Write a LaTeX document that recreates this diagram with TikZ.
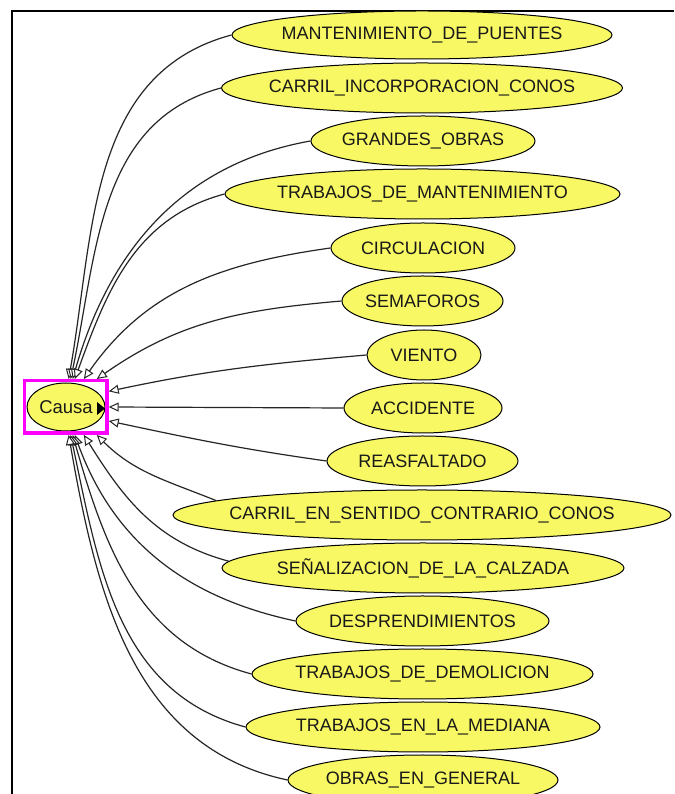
\documentclass[tikz,border=0pt]{standalone}
\usepackage{fontspec}
\setmainfont{Liberation Sans}
\usetikzlibrary{arrows.meta,shapes.geometric}
\definecolor{nodeyellow}{RGB}{248,248,100}
\definecolor{selmagenta}{RGB}{255,0,255}
\newcommand{\lbl}[1]{\makebox[0pt]{#1}}
\begin{document}
\begin{tikzpicture}[x=1pt,y=1pt,
  concept/.style={ellipse, draw=black, line width=1pt, fill=nodeyellow,
    inner sep=0pt, minimum height=50pt, text=black!90,
    font=\fontsize{18}{20}\selectfont},
  edge/.style={draw=black!85, line width=1.2pt,
    -{Triangle[length=10pt,width=9pt,fill=white,line width=1pt]}},
  selbox/.style={rectangle, draw=selmagenta, line width=3.5pt, inner sep=0pt,
    minimum width=82.5pt, minimum height=52.5pt}]
\useasboundingbox (0,0) rectangle (674,794);
\fill[white] (0,0) rectangle (674,794);
% frame
\draw[line width=2pt] (12,0) -- (12,783) -- (674,783);

% the root concept and its selection box
\node[concept, minimum width=78pt, minimum height=48pt, font=\fontsize{18.5}{20}\selectfont] (causa) at (66,387) {\lbl{Causa}};
\fill[black] (97,392) -- (97,379) -- (105,385.5) -- cycle;
\node[selbox] (sel) at (65.7,387) {};

% subconcepts
\node[concept, minimum width=380pt, minimum height=48pt] (n1) at (422,759) {\lbl{MANTENIMIENTO\_DE\_PUENTES}};
\node[concept, minimum width=401pt] (n2) at (422,706) {\lbl{CARRIL\_INCORPORACION\_CONOS}};
\node[concept, minimum width=224pt] (n3) at (423,653) {\lbl{GRANDES\_OBRAS}};
\node[concept, minimum width=395pt] (n4) at (422.5,600) {\lbl{TRABAJOS\_DE\_MANTENIMIENTO}};
\node[concept, minimum width=184pt] (n5) at (423,546) {\lbl{CIRCULACION}};
\node[concept, minimum width=161pt] (n6) at (422.5,493) {\lbl{SEMAFOROS}};
\node[concept, minimum width=114pt] (n7) at (424,439) {\lbl{VIENTO}};
\node[concept, minimum width=158pt] (n8) at (423,386) {\lbl{ACCIDENTE}};
\node[concept, minimum width=191pt] (n9) at (422.5,333) {\lbl{REASFALTADO}};
\node[concept, minimum width=498pt] (n10) at (422,279) {\lbl{CARRIL\_EN\_SENTIDO\_CONTRARIO\_CONOS}};
\node[concept, minimum width=402pt] (n11) at (423,226) {\lbl{SEÑALIZACION\_DE\_LA\_CALZADA}};
\node[concept, minimum width=253pt] (n12) at (422.5,173) {\lbl{DESPRENDIMIENTOS}};
\node[concept, minimum width=341pt] (n13) at (422.5,120) {\lbl{TRABAJOS\_DE\_DEMOLICION}};
\node[concept, minimum width=354pt] (n14) at (423,67) {\lbl{TRABAJOS\_EN\_LA\_MEDIANA}};
\node[concept, minimum width=270pt] (n15) at (423,14) {\lbl{OBRAS\_EN\_GENERAL}};

% subclass links
\draw[edge] (n1.west) to[out=195,in=80] (sel.84);
\draw[edge] (n2.west) to[out=195,in=78] (sel.80);
\draw[edge] (n3.west) to[out=190,in=74] (sel.76);
\draw[edge] (n4.west) to[out=195,in=70] (sel.72);
\draw[edge] (n5.west) to[out=188,in=55] (sel.57);
\draw[edge] (n6.west) to[out=185,in=35] (sel.42);
\draw[edge] (n7.west) to[out=185,in=12] (sel.20);
\draw[edge] (n8.west) -- (sel.east);
\draw[edge] (n9.west) to[out=172,in=-12] (sel.-18);
\draw[edge] (n10.176.5) to[out=158,in=-45] (sel.-42);
\draw[edge] (n11.178) to[out=165,in=-58] (sel.-57);
\draw[edge] (n12.west) to[out=168,in=-70] (sel.-72);
\draw[edge] (n13.west) to[out=165,in=-74] (sel.-76);
\draw[edge] (n14.west) to[out=165,in=-78] (sel.-80);
\draw[edge] (n15.west) to[out=168,in=-80] (sel.-84);
\end{tikzpicture}
\end{document}
